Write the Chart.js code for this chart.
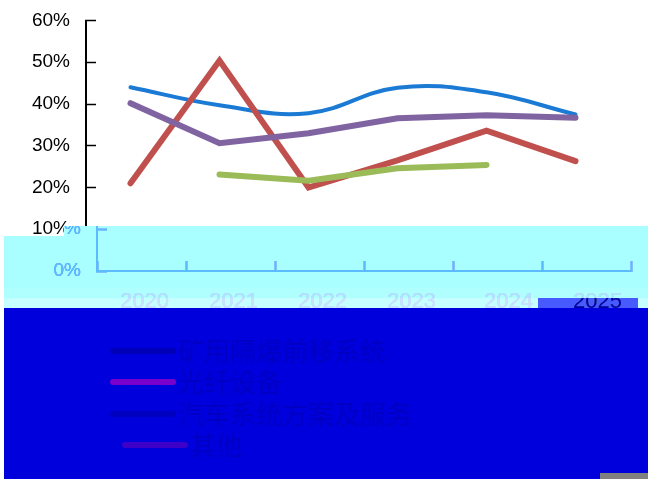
<!DOCTYPE html>
<html>
<head>
<meta charset="utf-8">
<style>
  html, body { margin: 0; padding: 0; background: #fff; }
  canvas { display: block; }
</style>
<script src="https://cdn.jsdelivr.net/npm/chart.js@4/dist/chart.umd.min.js"></script>
</head>
<body>
<canvas id="myChart" width="648" height="479"></canvas>
<script>
const years = ['2020', '2021', '2022', '2023', '2024', '2025'];
const seriesNames = ['矿用隔爆前移系统', '光纤设备', '汽车系统方案及服务', '其他'];
const series1 = [44, 39.7, 37.8, 43.9, 42.8, 37.5];
const series2 = [21, 50.4, 20, 26.5, 33.6, 26.3];
const series3 = [null, 23.1, 21.6, 24.6, 25.4, null];
const series4 = [40.2, 30.6, 33, 36.6, 37.3, 36.7];
const lineColors = ['#1a7ad4', '#c0504d', '#9bbb59', '#8064a2'];
const lineWidths = [4, 6, 6, 6];
const tensions = [0.4, 0, 0, 0];
const legendColors = ['#0000b8', '#7a00cc', '#0000c0', '#3c00c8'];
const legendX = [113, 113, 113, 125];
const legendY = [351, 382, 414, 445];

const allSeries = [series1, series2, series3, series4];
const FONT = '"Liberation Sans", Arial, sans-serif';

// recolours one strip of the finished picture and slides it sideways
function strip(ctx, x, y, w, h, dx, tint, lift) {
  ctx.save();
  ctx.beginPath();
  ctx.rect(x, y, w, h);
  ctx.clip();
  if (dx) ctx.drawImage(ctx.canvas, dx, 0);
  ctx.globalCompositeOperation = 'multiply';
  ctx.fillStyle = tint;
  ctx.fillRect(x, y, w, h);
  ctx.globalCompositeOperation = 'lighten';
  ctx.fillStyle = lift;
  ctx.fillRect(x, y, w, h);
  ctx.restore();
}

const bandPlugin = {
  id: 'bands',
  beforeDraw(chart) {
    chart.ctx.fillStyle = '#fff';
    chart.ctx.fillRect(0, 0, chart.width, chart.height);
  },
  afterDraw(chart) {
    const ctx = chart.ctx;
    const cyan = 'rgb(169,255,255)', sky = 'rgb(92,186,255)';
    strip(ctx, 64, 226, 584, 10, 11, cyan, sky);
    strip(ctx, 4, 236, 644, 52, 11, cyan, sky);
    // right to left, each strip reads pixels from its left
    strip(ctx, 470, 288, 178, 10, 22, cyan, 'rgb(176,225,255)');
    strip(ctx, 4, 288, 466, 10, 14, cyan, 'rgb(176,225,255)');
    strip(ctx, 638, 298, 10, 10, 22, 'rgb(198,255,255)', 'rgb(198,226,255)');
    strip(ctx, 538, 298, 100, 10, 22, 'rgb(70,90,255)', 'rgb(0,0,170)');
    strip(ctx, 470, 298, 68, 10, 22, 'rgb(198,255,255)', 'rgb(198,226,255)');
    strip(ctx, 4, 298, 466, 10, 14, 'rgb(198,255,255)', 'rgb(198,226,255)');

    ctx.save();
    ctx.fillStyle = '#0000dc';
    ctx.fillRect(4, 308, 644, 171);
    ctx.fillStyle = '#808080';
    ctx.fillRect(600, 473, 48, 6);
    ctx.lineCap = 'round';
    ctx.lineWidth = 6;
    ctx.textBaseline = 'middle';
    ctx.font = '26px "Noto Sans CJK SC"';
    seriesNames.forEach(function(name, i) {
      ctx.strokeStyle = legendColors[i];
      ctx.beginPath();
      ctx.moveTo(legendX[i], legendY[i]);
      ctx.lineTo(legendX[i] + 60, legendY[i]);
      ctx.stroke();
      ctx.fillStyle = '#0000c4';
      ctx.fillText(name, legendX[i] + 65, legendY[i]);
    });
    ctx.restore();
  }
};

new Chart(document.getElementById('myChart').getContext('2d'), {
  type: 'line',
  data: {
    labels: years,
    datasets: allSeries.map(function(values, i) {
      return {
        label: seriesNames[i],
        data: values,
        borderColor: lineColors[i],
        borderWidth: lineWidths[i],
        borderCapStyle: 'round',
        borderJoinStyle: 'miter',
        tension: tensions[i],
        pointRadius: 0,
        clip: false,
        order: 3 - i
      };
    })
  },
  options: {
    responsive: false,
    animation: false,
    layout: { padding: { top: 20.5, right: 28, left: 0, bottom: 0 } },
    plugins: { legend: { display: false }, tooltip: { enabled: false } },
    scales: {
      x: {
        offset: true,
        afterFit: function(scale) {
          scale.height = 208;
          scale.paddingLeft = 0;
          scale.paddingRight = 0;
        },
        border: { color: '#000', width: 2 },
        grid: { offset: true, drawOnChartArea: false, tickLength: -10, tickWidth: 1.5, tickColor: '#000' },
        ticks: { color: '#000', padding: 28, maxRotation: 0, font: { family: FONT, size: 22 } }
      },
      y: {
        min: 0,
        max: 60,
        afterFit: function(scale) {
          scale.width = 86;
          scale.paddingTop = 0;
          scale.paddingBottom = 0;
        },
        border: { color: '#000', width: 2 },
        grid: { drawOnChartArea: false, tickLength: -10, tickWidth: 1.5, tickColor: '#000' },
        ticks: {
          stepSize: 10,
          color: '#000',
          padding: 26,
          font: { family: FONT, size: 19 },
          callback: function(v) { return v + '%'; }
        }
      }
    }
  },
  plugins: [bandPlugin]
});
</script>
</body>
</html>
